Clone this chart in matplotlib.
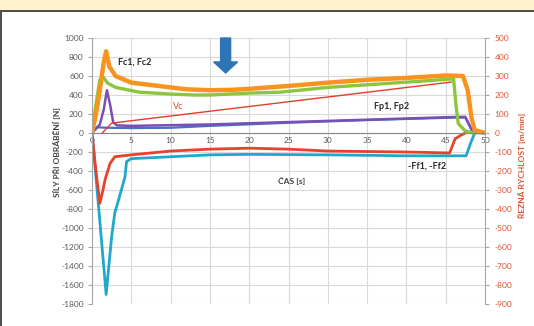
import matplotlib
matplotlib.use('Agg')
import matplotlib.pyplot as plt
from matplotlib.lines import Line2D
from matplotlib.patches import Rectangle

plt.rcParams['font.family'] = ['Lato', 'DejaVu Sans']
plt.rcParams['axes.unicode_minus'] = False

# cutting force Fc1, Fc2 [N]
t_fc = [0, 0.5, 1.0, 1.5, 1.8, 2.2, 3, 5, 8, 10, 12, 15, 18, 20, 25, 30, 35, 40, 45, 47.2, 47.8, 48.3, 48.7, 50]
fc = [0, 200, 450, 750, 860, 700, 600, 530, 500, 480, 460, 450, 455, 465, 495, 530, 560, 580, 605, 600, 450, 150, 30, 0]
t_fc2 = [0, 0.5, 1.0, 1.4, 2, 3, 6, 10, 13, 15, 20, 24, 30, 40, 46, 46.3, 46.6, 47.5, 48.5]
fc2 = [0, 300, 560, 590, 525, 480, 430, 410, 400, 400, 420, 430, 480, 535, 570, 300, 100, 20, 0]

# passive force Fp1, Fp2 [N]
t_fp = [0, 0.5, 1.0, 1.5, 1.9, 2.3, 2.7, 3.2, 5, 15, 25, 35, 46, 47.5, 48.5, 50]
fp = [0, 50, 90, 250, 450, 300, 110, 80, 75, 90, 115, 140, 168, 170, 0, 0]
t_fp2 = [0, 0.7, 2, 5, 10, 15, 25, 35, 46, 47.5, 48.5]
fp2 = [0, 60, 55, 52, 55, 75, 108, 136, 162, 162, 0]

# feed force -Ff1, -Ff2 [N]
t_ff = [0, 0.5, 1.0, 1.4, 1.65, 2.3, 2.9, 5, 10, 15, 20, 25, 30, 40, 45.5, 46.2, 47.0, 47.5]
ff = [0, -400, -740, -600, -495, -320, -250, -230, -190, -170, -160, -170, -190, -200, -210, -60, -20, 0]
t_ff2 = [0, 0.8, 1.8, 2.5, 2.9, 3.5, 4.2, 4.4, 5, 10, 15, 20, 30, 40, 47.6, 48.2, 48.7]
ff2 = [0, -740, -1700, -1090, -840, -670, -460, -300, -270, -250, -230, -225, -230, -240, -240, -100, 0]

# cutting speed Vc [m/min]
t_vc = [1.3, 2.5, 45.7]
vc = [0, 52, 268]

x_ticks = list(range(0, 51, 5))
y_ticks = list(range(-1800, 1001, 200))
y2_ticks = list(range(-900, 501, 100))

grey = '#595959'
red = '#E5502F'

fig = plt.figure(figsize=(5.34, 3.26), dpi=100)
fig.patches.append(Rectangle((0, 1 - 10 / 326), 1, 10 / 326, transform=fig.transFigure,
                             facecolor='#FFF3CF', edgecolor='none', zorder=0))
fig.lines.append(Line2D([0, 1], [1 - 10.5 / 326] * 2, transform=fig.transFigure, color='#4D4D4D', lw=1.4))
fig.lines.append(Line2D([1.2 / 534] * 2, [0, 1 - 10.5 / 326], transform=fig.transFigure, color='#4D4D4D', lw=1.4))

ax = fig.add_axes([92 / 534, 1 - 304 / 326, (485 - 92) / 534, (304 - 38) / 326])
ax.set_xlim(0, 50)
ax.set_ylim(-1800, 1000)
ax.set_xticks(x_ticks)
ax.set_yticks(y_ticks)
ax.grid(True, color='#D9D9D9', lw=0.8)
ax.set_axisbelow(True)
for s in ['top', 'right']:
    ax.spines[s].set_visible(False)
ax.spines['bottom'].set_position(('data', 0))
ax.spines['bottom'].set_color('#868686')
ax.spines['left'].set_color('#A6A6A6')
ax.tick_params(axis='x', length=0, pad=3, labelsize=6, labelcolor=grey)
ax.tick_params(axis='y', length=3, pad=3, labelsize=6, labelcolor=grey, color='#A6A6A6')

ax.plot(t_ff2, ff2, color='#1FA8CC', lw=2.0)
ax.plot(t_ff, ff, color='#E8412C', lw=2.0)
ax.plot(t_fp2, fp2, color='#4472C4', lw=1.6)
ax.plot(t_fp, fp, color='#7A4FB5', lw=1.8)
ax.plot(t_fc2, fc2, color='#8CC63F', lw=2.4)
ax.plot(t_fc, fc, color='#F7941D', lw=3.2)

ax2 = ax.twinx()
ax2.set_ylim(-900, 500)
ax2.set_yticks(y2_ticks)
for s in ['top', 'left', 'bottom']:
    ax2.spines[s].set_visible(False)
ax2.spines['right'].set_color('#A6A6A6')
ax2.tick_params(axis='y', length=3, pad=4, labelsize=6, labelcolor=red, color='#A6A6A6')
ax2.plot(t_vc, vc, color='#E0402A', lw=1.0)

ax.arrow(17.0, 1000, 0, -368, width=1.27, head_width=3.05, head_length=116,
         length_includes_head=True, color='#2E75B6', clip_on=False, zorder=5)

ax.text(3.3, 747, 'Fc1, Fc2', fontsize=6.5, fontweight='bold', color='#262626', va='center')
ax.text(10.3, 284, 'Vc', fontsize=6.5, color=red, va='center')
ax.text(35.9, 274, 'Fp1, Fp2', fontsize=6.5, fontweight='bold', color='#262626', va='center')
ax.text(40.2, -347, '-Ff1, -Ff2', fontsize=6.5, fontweight='bold', color='#262626', va='center')
ax.text(25.4, -505, 'ČAS [s]', fontsize=6, fontweight='bold', color='#404040', ha='center', va='center')

fig.text(57 / 534, 1 - 152 / 326, 'SÍLY PŘI OBRÁBĚNÍ [N]', rotation=90, fontsize=6,
         fontweight='bold', color='#404040', ha='center', va='center')
fig.text(522 / 534, 1 - 165 / 326, 'ŘEZNÁ RYCHLOST [m/min]', rotation=90, fontsize=6,
         fontweight='bold', color=red, ha='center', va='center')

fig.savefig('out.png', dpi=100)
